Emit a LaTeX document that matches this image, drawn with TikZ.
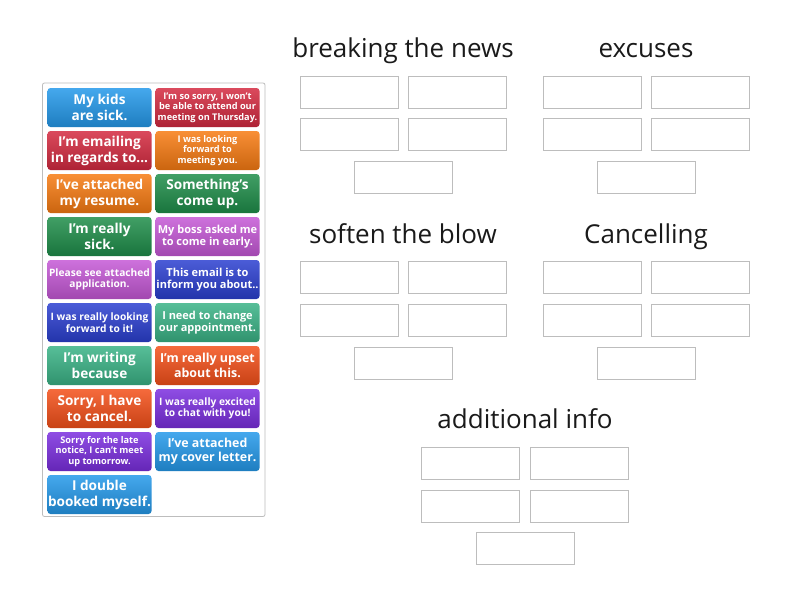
\documentclass[tikz,border=0pt]{standalone}
\usepackage{fontspec}
\setmainfont{Open Sans}
\definecolor{tblue}{HTML}{2499EA}
\definecolor{tred}{HTML}{D42A40}
\definecolor{torange}{HTML}{F77B12}
\definecolor{tdgreen}{HTML}{1F8E4A}
\definecolor{tteal}{HTML}{3AB386}
\definecolor{tmagenta}{HTML}{C558D6}
\definecolor{tnavy}{HTML}{2B3FD0}
\definecolor{tored}{HTML}{F4501A}
\definecolor{tpurple}{HTML}{7B2EDF}
\definecolor{boxline}{HTML}{BDBDBD}
\definecolor{titletext}{HTML}{1A1A1A}
\tikzset{
  cardbox/.style={rounded corners=3pt, minimum width=104pt, minimum height=39pt,
    inner sep=0.5pt, align=center, text=white, font=\bfseries,
    top color=#1!85!white, middle color=#1, bottom color=#1!82!black},
  big/.style={font=\bfseries\fontsize{13.6}{16}\selectfont},
  mid/.style={font=\bfseries\fontsize{12.4}{14.5}\selectfont},
  med/.style={font=\bfseries\fontsize{11}{12.6}\selectfont},
  sml/.style={font=\bfseries\fontsize{10.2}{11.6}\selectfont},
  tiny/.style={font=\bfseries\fontsize{9.2}{10.6}\selectfont},
  dropbox/.style={draw=boxline, line width=0.9pt, fill=white, minimum width=98pt, minimum height=32pt, inner sep=0pt},
  cattitle/.style={anchor=base, text=titletext, font=\fontsize{26}{29}\selectfont, inner sep=0pt}
}
\begin{document}
\begin{tikzpicture}[x=1pt,y=-1pt]
\useasboundingbox (0,0) rectangle (800,600);
\fill[white] (0,0) rectangle (800,600);
% left panel
\draw[draw=boxline, line width=0.8pt, rounded corners=2pt] (42.5,83) rectangle (265,516.5);
% column 1
\node[cardbox=tblue, big] (c1) at (99.5,107.5) {My kids\\are sick.};
\node[cardbox=tred, big] (c2) at (99.5,150.5) {I'm emailing\\in regards to...};
\node[cardbox=torange, big] (c3) at (99.5,193.5) {I've attached\\my resume.};
\node[cardbox=tdgreen, big] (c4) at (99.5,236.5) {I'm really\\sick.};
\node[cardbox=tmagenta, sml] (c5) at (99.5,279.5) {Please see attached\\application.};
\node[cardbox=tnavy, sml] (c6) at (99.5,322.5) {I was really looking\\forward to it!};
\node[cardbox=tteal, big] (c7) at (99.5,365.5) {I'm writing\\because};
\node[cardbox=tored, big] (c8) at (99.5,408.5) {Sorry, I have\\to cancel.};
\node[cardbox=tpurple, tiny] (c9) at (99.5,451.5) {Sorry for the late\\notice, I can't meet\\up tomorrow.};
\node[cardbox=tblue, big] (c10) at (99.5,494.5) {I double\\booked myself.};
% column 2
\node[cardbox=tred, tiny] (d1) at (207.5,107.5) {I'm so sorry, I won't\\be able to attend our\\meeting on Thursday.};
\node[cardbox=torange, tiny] (d2) at (207.5,150.5) {I was looking\\forward to\\meeting you.};
\node[cardbox=tdgreen, big] (d3) at (207.5,193.5) {Something's\\come up.};
\node[cardbox=tmagenta, med] (d4) at (207.5,236.5) {My boss asked me\\to come in early.};
\node[cardbox=tnavy, med] (d5) at (207.5,279.5) {This email is to\\inform you about..};
\node[cardbox=tteal, med] (d6) at (207.5,322.5) {I need to change\\our appointment.};
\node[cardbox=tored, mid] (d7) at (207.5,365.5) {I'm really upset\\about this.};
\node[cardbox=tpurple, sml] (d8) at (207.5,408.5) {I was really excited\\to chat with you!};
\node[cardbox=tblue, mid] (d9) at (207.5,451.5) {I've attached\\my cover letter.};
% breaking the news
\node[cattitle] (t1) at (403,57) {breaking the news};
\node[dropbox] (b11) at (349,92) {};
\node[dropbox] (b12) at (457.5,92) {};
\node[dropbox] (b13) at (349,134.5) {};
\node[dropbox] (b14) at (457.5,134.5) {};
\node[dropbox] (b15) at (403.5,177) {};
% excuses
\node[cattitle] (t2) at (646,57) {excuses};
\node[dropbox] (b21) at (592,92) {};
\node[dropbox] (b22) at (700.5,92) {};
\node[dropbox] (b23) at (592,134.5) {};
\node[dropbox] (b24) at (700.5,134.5) {};
\node[dropbox] (b25) at (646,177) {};
% soften the blow
\node[cattitle] (t3) at (403,243) {soften the blow};
\node[dropbox] (b31) at (349,277) {};
\node[dropbox] (b32) at (457.5,277) {};
\node[dropbox] (b33) at (349,320) {};
\node[dropbox] (b34) at (457.5,320) {};
\node[dropbox] (b35) at (403.5,363) {};
% Cancelling
\node[cattitle] (t4) at (646,243) {Cancelling};
\node[dropbox] (b41) at (592,277) {};
\node[dropbox] (b42) at (700.5,277) {};
\node[dropbox] (b43) at (592,320) {};
\node[dropbox] (b44) at (700.5,320) {};
\node[dropbox] (b45) at (646,363) {};
% additional info
\node[cattitle] (t5) at (525,428) {additional info};
\node[dropbox] (b51) at (470.5,463) {};
\node[dropbox] (b52) at (579,463) {};
\node[dropbox] (b53) at (470.5,506) {};
\node[dropbox] (b54) at (579,506) {};
\node[dropbox] (b55) at (525,548) {};
\end{tikzpicture}
\end{document}
